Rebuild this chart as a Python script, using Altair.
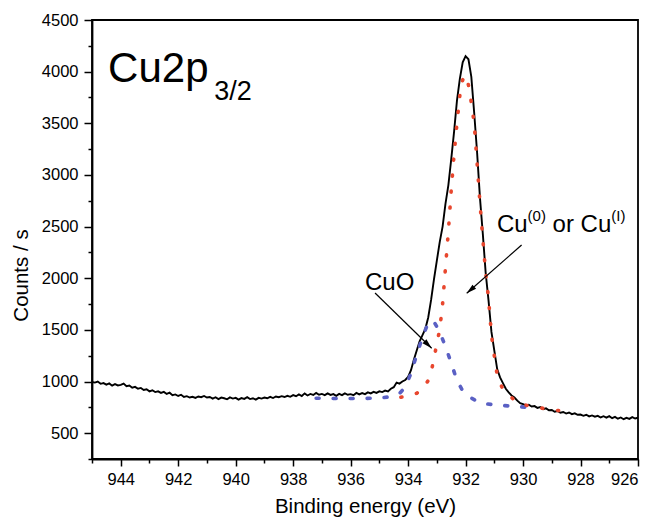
import altair as alt
import pandas as pd

FONT = "Liberation Sans"

# ---- measured spectrum (black), 945.0 -> 926.0 eV every 0.1 eV ----
black_start = 945.0
black_step = 0.1
black_counts = [
    995, 990, 1000, 978, 985, 970, 982, 960, 975, 962,      # 945.0-944.1
    968, 980, 955, 962, 940, 948, 930, 938, 918, 925,       # 944.0-943.1
    905, 915, 898, 905, 890, 900, 880, 892, 868, 875,       # 943.0-942.1
    860, 872, 850, 858, 845, 852, 842, 855, 848, 860,       # 942.0-941.1
    845, 850, 835, 848, 830, 845, 838, 828, 846, 835,       # 941.0-940.1
    842, 825, 840, 832, 848, 830, 838, 825, 842, 835,       # 940.0-939.1
    845, 838, 852, 840, 855, 848, 858, 850, 862, 852,       # 939.0-938.1
    868, 858, 875, 860, 885, 865, 880, 870, 890, 872,       # 938.0-937.1
    880, 868, 885, 870, 878, 862, 880, 868, 885, 872,       # 937.0-936.1
    878, 868, 890, 875, 888, 878, 895, 885, 900, 890,       # 936.0-935.1
    905, 898, 912, 905, 930, 945, 990, 980, 1000, 1015,     # 935.0-934.1
    1045, 1110, 1210, 1300, 1390, 1450, 1510, 1620, 1790, 1990,  # 934.0-933.1
    2170, 2350, 2500, 2720, 2900, 3150, 3420, 3720, 3930, 4090,  # 933.0-932.1
    4150, 4120, 3950, 3600, 3220, 2780, 2430, 2050, 1780, 1480,  # 932.0-931.1
    1300, 1120, 1040, 985, 930, 895, 865, 845, 815, 790,    # 931.0-930.1
    782, 770, 775, 758, 762, 745, 752, 732, 740, 722,       # 930.0-929.1
    725, 708, 715, 698, 705, 690, 700, 684, 692, 678,       # 929.0-928.1
    680, 668, 678, 662, 672, 660, 668, 652, 664, 650,       # 928.0-927.1
    665, 645, 658, 640, 652, 635, 648, 638, 655, 642,       # 927.0-926.1
    650,                                                    # 926.0
]

# ---- Cu(0)/Cu(I) component (red dotted) ----
red_energy = [934.25, 934.1, 933.9, 933.7, 933.5, 933.3, 933.2, 933.1, 933.0, 932.9,
              932.8, 932.7, 932.6, 932.5, 932.4, 932.3, 932.2, 932.1, 932.0, 931.9,
              931.8, 931.7, 931.6, 931.5, 931.4, 931.3, 931.2, 931.1, 931.0, 930.9,
              930.8, 930.7, 930.5, 930.3, 930.1, 929.8, 929.5, 929.1, 928.8, 928.4]
red_counts = [848, 858, 866, 886, 930, 1010, 1090, 1220, 1370, 1500,
              1750, 2100, 2450, 2850, 3200, 3500, 3770, 3920, 3965, 3870,
              3700, 3500, 3120, 2730, 2380, 2050, 1800, 1450, 1250, 1060,
              980, 930, 870, 820, 785, 765, 750, 730, 720, 706]

# ---- CuO component (blue dotted) ----
blue_energy = [937.2, 936.5, 936.0, 935.5, 935.0, 934.7, 934.5, 934.3, 934.1, 933.9,
               933.7, 933.5, 933.3, 933.2, 933.1, 933.0, 932.9, 932.7, 932.5, 932.3,
               932.1, 931.9, 931.6, 931.3, 931.0, 930.7, 930.4, 930.1, 929.9]
blue_counts = [838, 836, 835, 836, 840, 850, 865, 885, 945, 1080,
               1260, 1430, 1570, 1592, 1580, 1530, 1480, 1340, 1180, 1010,
               910, 855, 810, 785, 775, 768, 762, 755, 752]

# ---- axis ticks ----
x_ticks = list(range(926, 946))
y_ticks = list(range(250, 4501, 250))

# ---- annotations (data coordinates) ----
arrow_x = [935.15, 930.05]
arrow_y = [1857, 2322]
arrow_x2 = [933.18, 931.96]
arrow_y2 = [1322, 1854]
arrow_angle = [134, 229]

black_df = pd.DataFrame({
    "e": [round(black_start - black_step * i, 1) for i in range(len(black_counts))],
    "c": black_counts,
})
red_df = pd.DataFrame({"e": red_energy, "c": red_counts})
blue_df = pd.DataFrame({"e": blue_energy, "c": blue_counts})
arrows_df = pd.DataFrame({"x": arrow_x, "y": arrow_y, "x2": arrow_x2, "y2": arrow_y2,
                          "a": arrow_angle})

x_scale = alt.Scale(domain=[926, 945], reverse=True, nice=False, zero=False)
y_scale = alt.Scale(domain=[250, 4500], nice=False, zero=False)

x_axis = alt.Axis(
    values=x_ticks,
    title="Binding energy (eV)",
    labelExpr="datum.value % 2 === 0 ? datum.label : ''",
    tickSize={"condition": {"test": "datum.value % 2 === 0", "value": 7}, "value": 4},
    grid=False,
    labelPadding=5,
    titlePadding=9,
)
y_axis = alt.Axis(
    values=y_ticks,
    title="Counts / s",
    labelExpr="datum.value % 500 === 0 ? format(datum.value, 'd') : ''",
    tickSize={"condition": {"test": "datum.value % 500 === 0", "value": 8}, "value": 4},
    grid=False,
    labelPadding=6,
    titleX=-61,
    titleY=255,
)


def X(field):
    return alt.X(field, scale=x_scale, axis=x_axis)


def Y(field):
    return alt.Y(field, scale=y_scale, axis=y_axis)


black = alt.Chart(black_df).mark_line(color="black", strokeWidth=1.9, clip=True).encode(
    x=X("e:Q"), y=Y("c:Q"),
)
red = alt.Chart(red_df).mark_line(
    color="#e8472e", strokeWidth=3.6, strokeDash=[1, 15], strokeCap="round", clip=True
).encode(x=X("e:Q"), y=Y("c:Q"))
blue = alt.Chart(blue_df).mark_line(
    color="#5a60c4", strokeWidth=3.6, strokeDash=[3, 14], strokeCap="round", clip=True
).encode(x=X("e:Q"), y=Y("c:Q"))

arrow_lines = alt.Chart(arrows_df).mark_rule(color="black", strokeWidth=1.2).encode(
    x=X("x:Q"), y=Y("y:Q"), x2="x2:Q", y2="y2:Q",
)
arrow_heads = alt.Chart(arrows_df).mark_point(
    shape="M0,0L-0.28,1L0.28,1Z", filled=True, color="black", opacity=1, size=400
).encode(
    x=X("x2:Q"), y=Y("y2:Q"),
    angle=alt.Angle("a:Q", scale=None),
)


def label(x, y, s, size, dx=0, dy=0):
    df = pd.DataFrame({"e": [x], "c": [y], "t": [s]})
    return alt.Chart(df).mark_text(
        align="left", baseline="alphabetic", font=FONT, fontSize=size,
        dx=dx, dy=dy, color="black",
    ).encode(x=X("e:Q"), y=Y("c:Q"), text="t:N")


texts = [
    label(944.44, 3900, "Cu2p", 42),
    label(940.75, 3725, "3/2", 27),
    label(935.50, 1886, "CuO", 24),
    label(930.91, 2448, "Cu", 24),
    label(930.91, 2448, "(0)", 15, dx=30.7, dy=-11),
    label(930.91, 2448, "or Cu", 24, dx=55.7),
    label(930.91, 2448, "(I)", 15, dx=114.4, dy=-11),
]

chart = alt.layer(black, blue, red, arrow_lines, arrow_heads, *texts).properties(
    width=546,
    height=439,
    autosize=alt.AutoSizeParams(type="none"),
    padding={"left": 84, "top": 12, "right": 8, "bottom": 66},
    background="white",
).configure_view(
    stroke="black", strokeWidth=1.8
).configure_axis(
    domainColor="black", domainWidth=1.8, tickColor="black", tickWidth=1.5,
    labelFont=FONT, labelFontSize=16.5, labelColor="black",
    titleFont=FONT, titleFontSize=20.5, titleFontWeight="normal", titleColor="black",
)

chart.save("out.html", embed_options={"renderer": "svg", "actions": False})
